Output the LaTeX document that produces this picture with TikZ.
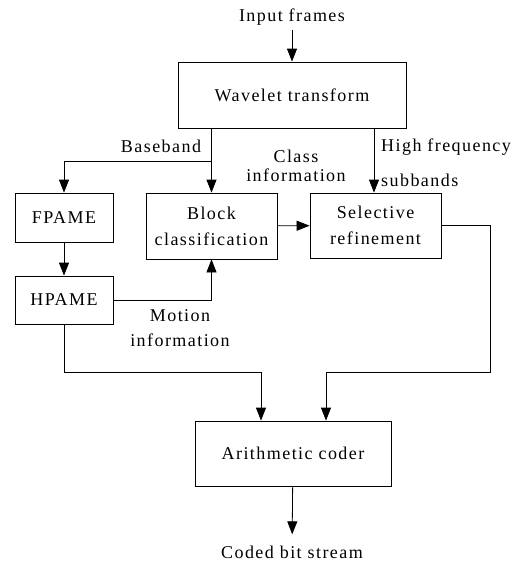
\documentclass[tikz,border=0pt]{standalone}
\usepackage{fontspec}
\setmainfont{Liberation Serif}[LetterSpace=8]
\usetikzlibrary{arrows.meta}
\newcommand\dfont{\fontsize{18}{26}\selectfont}
\begin{document}
\begin{tikzpicture}[x=1pt,y=-1pt,
  box/.style={draw, line width=0.8pt, inner sep=0pt, align=center, font=\dfont},
  lbl/.style={inner sep=0pt, align=center, font=\dfont},
  arr/.style={-{Triangle[length=13pt,width=10pt]}, line width=0.8pt},
  ln/.style={line width=0.8pt}]
\useasboundingbox (0,0) rectangle (528,563);
\node[lbl, anchor=base] (inp) at (292,21) {Input frames};
\node[box, minimum width=228pt, minimum height=66pt] (wt) at (292,95) {Wavelet transform};
\node[box, minimum width=98pt, minimum height=49pt] (fp) at (64,217.5) {FPAME};
\node[box, minimum width=131pt, minimum height=66pt] (bc) at (211.5,226) {Block\\classification};
\node[box, minimum width=131pt, minimum height=65pt] (sr) at (375.5,225.5) {Selective\\refinement};
\node[box, minimum width=98pt, minimum height=48pt] (hp) at (64,300) {HPAME};
\node[box, minimum width=196pt, minimum height=65pt] (ac) at (293,453.5) {Arithmetic coder};
\node[lbl, anchor=base] (out) at (292,558) {Coded bit stream};
% labels
\node[lbl, anchor=base] (lbb) at (161,152) {Baseband};
\node[lbl, font=\fontsize{18}{19}\selectfont] (lci) at (296,166) {Class\\information};
\node[lbl, align=left, anchor=north west, font=\fontsize{18}{35}\selectfont] (lhf) at (381,138.5) {High frequency\\subbands};
\node[lbl, font=\fontsize{18}{25}\selectfont] (lmi) at (180,328) {Motion\\information};
% coordinates
\coordinate (bb) at (211.5,161);
\coordinate (j1) at (261,372);
\coordinate (c2) at (490,372);
\coordinate (j2) at (326,372);
% connectors
\draw[arr, shorten <=5pt] (inp) -- (wt);
\draw[arr] (wt.south -| bc.north) -- (bc.north);
\draw[arr] (bb) -| (fp.north);
\draw[arr] (wt.south -| 374,0) -- (374,0 |- sr.north);
\draw[arr] (bc) -- (sr);
\draw[arr] (fp) -- (hp);
\draw[arr] (hp.east) -| (bc.south);
\draw[arr] (hp.south) |- (j1) -- (j1 |- ac.north);
\draw[arr] (sr.east) -| (c2) -- (j2) -- (j2 |- ac.north);
\draw[arr, shorten >=11pt] (ac) -- (out);
\end{tikzpicture}
\end{document}
